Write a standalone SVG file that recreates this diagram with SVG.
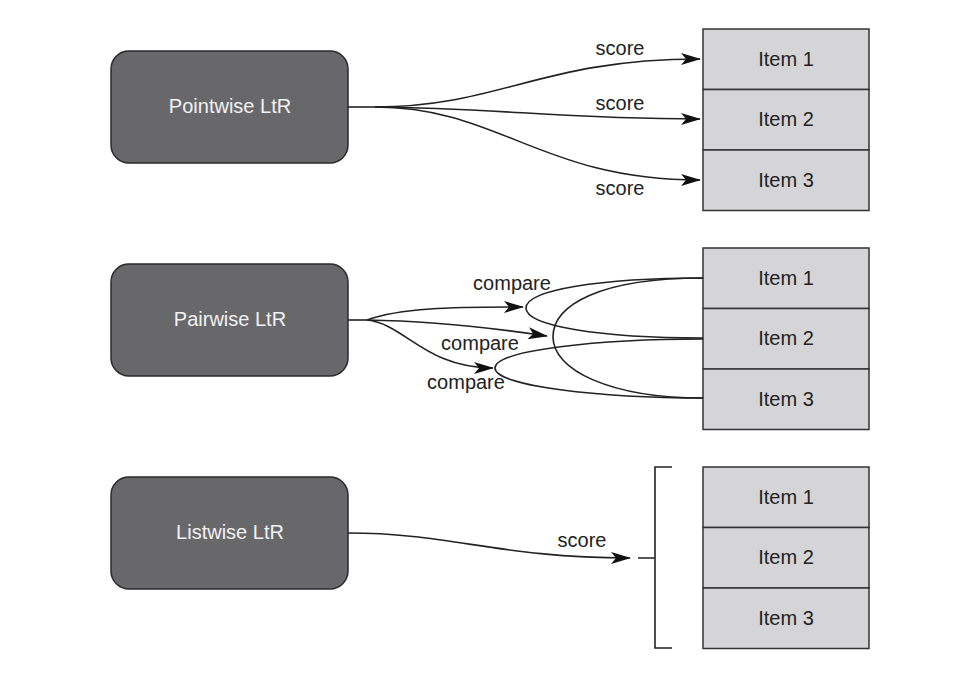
<svg xmlns="http://www.w3.org/2000/svg" width="956" height="681" viewBox="0 0 956 681">
<style>
.box{fill:#68686b;stroke:#2a2a2a;stroke-width:1.5}
.btxt{fill:#f2f2f2;font-family:"Liberation Sans",Arial,sans-serif;font-size:20px;text-anchor:middle}
.item{fill:#d5d5d7;stroke:#333;stroke-width:1.5}
.itxt{fill:#222;font-family:"Liberation Sans",Arial,sans-serif;font-size:20px;text-anchor:middle}
.lbl{fill:#222;font-family:"Liberation Sans",Arial,sans-serif;font-size:20px;text-anchor:middle}
.c{fill:none;stroke:#222;stroke-width:1.6}
.a{marker-end:url(#ah)}
</style>
<defs>
<marker id="ah" markerUnits="userSpaceOnUse" markerWidth="20" markerHeight="12" viewBox="0 0 20 12" refX="19" refY="6" orient="auto">
<path d="M0,0 L20,6 L0,12 L5,6 z" fill="#111"/>
</marker>
</defs>
<rect width="956" height="681" fill="#fff"/>

<g id="pointwise">
<rect class="box" x="111" y="51" width="237" height="112" rx="18"/>
<text class="btxt" x="230" y="113">Pointwise LtR</text>
</g>
<g id="pairwise">
<rect class="box" x="111" y="264" width="237" height="112" rx="18"/>
<text class="btxt" x="230" y="326">Pairwise LtR</text>
</g>
<g id="listwise">
<rect class="box" x="111" y="477" width="237" height="112" rx="18"/>
<text class="btxt" x="230" y="539">Listwise LtR</text>
</g>

<g id="items-pointwise">
<rect class="item" x="703" y="29" width="166" height="60.5"/>
<rect class="item" x="703" y="89.5" width="166" height="60.5"/>
<rect class="item" x="703" y="150" width="166" height="60.5"/>
<text class="itxt" x="786" y="66">Item 1</text>
<text class="itxt" x="786" y="126">Item 2</text>
<text class="itxt" x="786" y="187">Item 3</text>
</g>
<g id="items-pairwise">
<rect class="item" x="703" y="248" width="166" height="60.5"/>
<rect class="item" x="703" y="308.5" width="166" height="60.5"/>
<rect class="item" x="703" y="369" width="166" height="60.5"/>
<text class="itxt" x="786" y="285">Item 1</text>
<text class="itxt" x="786" y="345">Item 2</text>
<text class="itxt" x="786" y="406">Item 3</text>
</g>
<g id="items-listwise">
<rect class="item" x="703" y="467" width="166" height="60.5"/>
<rect class="item" x="703" y="527.5" width="166" height="60.5"/>
<rect class="item" x="703" y="588" width="166" height="60.5"/>
<text class="itxt" x="786" y="504">Item 1</text>
<text class="itxt" x="786" y="564">Item 2</text>
<text class="itxt" x="786" y="625">Item 3</text>
</g>

<g id="connectors">
<path class="c" d="M348,107 L375,107"/>
<path class="c a" d="M375,107 C 500,107 540,59 700,59"/>
<path class="c a" d="M375,107 C 500,108 560,119 700,119"/>
<path class="c a" d="M375,107 C 500,107 540,180 700,180"/>

<path class="c" d="M348,320 L367,320"/>
<path class="c a" d="M367,320 C 400,308 450,307 523,307"/>
<path class="c a" d="M367,320 C 430,321 500,329 547,336"/>
<path class="c a" d="M367,320 C 405,324 425,368 493,368"/>
<path class="c" d="M703,278 C 600,278 526,290 526,308 C 526,326 600,338 703,338"/>
<path class="c" d="M703,278 C 600,278 553,305 553,337 C 553,370 610,398 703,398"/>
<path class="c" d="M703,339 C 600,339 495,350 495,368 C 495,386 600,398 703,398"/>

<path class="c a" d="M348,533 C 450,533 500,558 630,558"/>
<path class="c" d="M638,558 L655,558 M672,467 L655,467 L655,648 L672,648"/>
</g>

<g id="labels">
<text class="lbl" x="620" y="55">score</text>
<text class="lbl" x="620" y="110">score</text>
<text class="lbl" x="620" y="195">score</text>
<text class="lbl" x="512" y="290">compare</text>
<text class="lbl" x="480" y="350">compare</text>
<text class="lbl" x="466" y="389">compare</text>
<text class="lbl" x="582" y="547">score</text>
</g>
</svg>
